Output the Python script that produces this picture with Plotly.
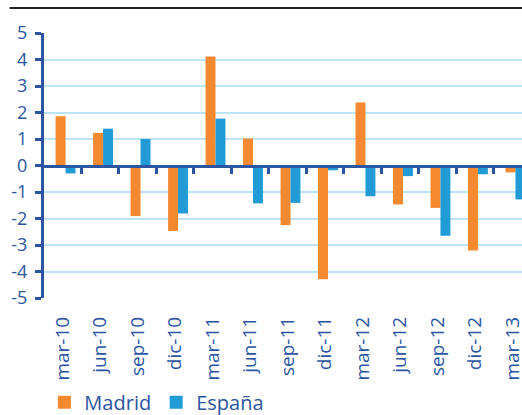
import plotly.graph_objects as go

categories = ["mar-10", "jun-10", "sep-10", "dic-10", "mar-11", "jun-11", "sep-11",
              "dic-11", "mar-12", "jun-12", "sep-12", "dic-12", "mar-13"]
madrid = [1.86, 1.23, -1.91, -2.47, 4.11, 1.02, -2.25, -4.29, 2.38, -1.47, -1.60, -3.21, -0.26]
espana = [-0.30, 1.39, 1.00, -1.81, 1.77, -1.43, -1.41, -0.18, -1.16, -0.40, -2.65, -0.33, -1.28]
y_ticks = [5, 4, 3, 2, 1, 0, -1, -2, -3, -4, -5]
series_names = ["Madrid", "España"]

ORANGE = "#F5892F"
BLUE = "#209BD6"
DARK = "#2B55A1"
GRID = "#BDE4F6"
FONT = "Open Sans"

xs = list(range(len(categories)))

fig = go.Figure()
fig.add_trace(go.Bar(x=xs, y=madrid, name=series_names[0], marker_color=ORANGE,
                     marker_line_width=0, width=0.265, offset=-0.19,
                     legendgroup="m", showlegend=False))
fig.add_trace(go.Bar(x=xs, y=espana, name=series_names[1], marker_color=BLUE,
                     marker_line_width=0, width=0.265, offset=0.075,
                     legendgroup="e", showlegend=False))
# legend entries (square swatches)
fig.add_trace(go.Scatter(x=[None], y=[None], mode="markers", name=series_names[0],
                         legendgroup="m",
                         marker=dict(symbol="square", size=13, color=ORANGE)))
fig.add_trace(go.Scatter(x=[None], y=[None], mode="markers", name=series_names[1],
                         legendgroup="e",
                         marker=dict(symbol="square", size=13, color=BLUE)))
# invisible trace on the zero-line axis
fig.add_trace(go.Scatter(x=[0], y=[0], xaxis="x2", mode="markers",
                         marker_opacity=0, showlegend=False, hoverinfo="skip"))

fig.update_layout(
    width=522, height=415,
    margin=dict(l=44, r=0, t=33, b=117, autoexpand=False),
    paper_bgcolor="white", plot_bgcolor="white",
    barmode="overlay",
    font=dict(family=FONT, color=DARK),
    showlegend=True,
    legend=dict(orientation="h", xref="container", yref="container",
                x=0.085, y=0.078, xanchor="left", yanchor="top",
                font=dict(size=20, color=DARK), itemwidth=30, tracegroupgap=0,
                bgcolor="rgba(0,0,0,0)"),
    xaxis=dict(range=[-0.5, 12.25], tickmode="array", tickvals=xs, ticktext=categories,
               tickangle=-90, showgrid=False, zeroline=False, showline=False,
               ticks="", tickfont=dict(size=19, color=DARK), ticklabelstandoff=14,
               ticklabeloverflow="allow", automargin=False),
    xaxis2=dict(overlaying="x", matches="x", anchor="free", position=0.5,
                side="bottom", showline=True, linecolor=DARK, linewidth=3,
                ticks="outside", ticklen=6, tickwidth=3, tickcolor=DARK,
                tickmode="array", tickvals=[i + 0.5 for i in range(12)],
                showticklabels=False, showgrid=False, zeroline=False,
                automargin=False),
    yaxis=dict(range=[-5, 5], tickmode="array", tickvals=y_ticks,
               ticktext=[str(v) for v in y_ticks],
               showgrid=True, gridcolor=GRID, gridwidth=1.5,
               zeroline=False, showline=True, linecolor=DARK, linewidth=3,
               ticks="outside", ticklen=6, tickwidth=3, tickcolor=DARK,
               tickfont=dict(size=18, color=DARK), ticklabelstandoff=4,
               automargin=False),
    shapes=[dict(type="line", xref="paper", yref="paper", x0=-0.072, x1=1.0,
                 y0=1.094, y1=1.094, line=dict(color="#222222", width=2))],
)

fig.write_html("out.html", config={"displayModeBar": False},
               post_script="document.body.style.margin='0px';document.body.style.overflow='hidden';")
